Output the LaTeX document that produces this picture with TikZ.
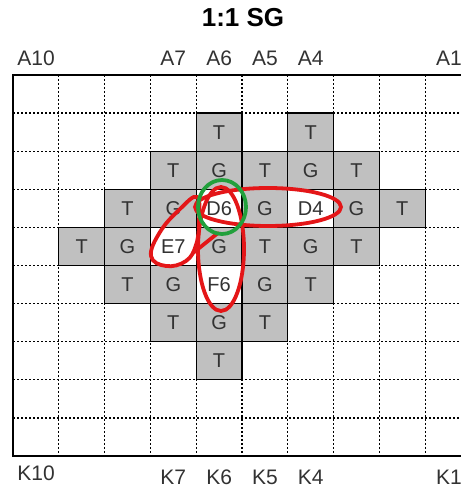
\documentclass[tikz,border=0pt]{standalone}
\usepackage{fontspec}
\setmainfont{Liberation Sans}
\definecolor{cellgray}{RGB}{192,192,192}
\definecolor{inkgray}{RGB}{50,50,50}
\definecolor{penred}{RGB}{228,22,24}
\definecolor{pengreen}{RGB}{34,160,60}
\begin{document}
\begin{tikzpicture}[x=1pt,y=1pt,cell/.style={draw,line width=1.2pt,fill=cellgray,minimum width=45.8pt,minimum height=38.1pt,inner sep=0pt,text=inkgray,font=\fontsize{20}{22}\selectfont},hotcell/.style={cell,fill=white},axislabel/.style={text=inkgray,font=\fontsize{21}{23}\selectfont,inner sep=0pt},gridline/.style={line width=1.3pt,dash pattern=on 2pt off 2pt},frame/.style={line width=2.6pt},redloop/.style={penred,line width=3.8pt},greenloop/.style={pengreen,line width=3.8pt}]
\useasboundingbox (0,0) rectangle (461,488);
\node[font=\fontsize{26}{28}\selectfont\bfseries] (title) at (243,470){1:1 SG};
\node[axislabel] (topA10) at (36,430){A10};\node[axislabel] (topA7) at (173.3,430){A7};\node[axislabel] (topA6) at (219.1,430){A6};\node[axislabel] (topA5) at (264.9,430){A5};\node[axislabel] (topA4) at (310.7,430){A4};\node[axislabel] (topA1) at (449,430){A1};
\node[axislabel] (botK10) at (36,15){K10};\node[axislabel] (botK7) at (173.3,11){K7};\node[axislabel] (botK6) at (219.1,11){K6};\node[axislabel] (botK5) at (264.9,11){K5};\node[axislabel] (botK4) at (310.7,11){K4};\node[axislabel] (botK1) at (449,11){K1};
\begin{scope}[shift={(13pt,413pt)},x=45.8pt,y=-38.1pt]
\foreach \i in {1,...,9} \draw[gridline] (\i,0) -- (\i,10);
\foreach \j in {1,...,9} \draw[gridline] (0,\j) -- (10,\j);
\foreach \n/\i/\j/\t in {B6/4/1/T,B4/6/1/T,C7/3/2/T,C6/4/2/G,C5/5/2/T,C4/6/2/G,C3/7/2/T,D8/2/3/T,D7/3/3/G,D5/5/3/G,D3/7/3/G,D2/8/3/T,E9/1/4/T,E8/2/4/G,E6/4/4/G,E5/5/4/T,E4/6/4/G,E3/7/4/T,F8/2/5/T,F7/3/5/G,F5/5/5/G,F4/6/5/T,G7/3/6/T,G6/4/6/G,G5/5/6/T,H6/4/7/T}
  \node[cell] (\n) at (\i+.5,\j+.5){\t};
\foreach \n/\i/\j in {D6/4/3,D4/6/3,E7/3/4,F6/4/5}
  \node[hotcell] (\n) at (\i+.5,\j+.5){\n};
\draw[frame] (0,0) rectangle (10,10);
\end{scope}
\draw[redloop] (268,281) ellipse [x radius=73pt,y radius=19pt];
\draw[redloop] (221,239) ellipse [x radius=23pt,y radius=62pt];
\draw[redloop] plot[smooth cycle,tension=0.7] coordinates {(197,291) (199,266) (196,243) (186,227) (166,222) (151,232) (160,256) (179,278)};
\draw[redloop,line cap=round] (218,255) -- (193,235);
\draw[greenloop] (222,281) ellipse [x radius=24pt,y radius=27pt];
\end{tikzpicture}
\end{document}
